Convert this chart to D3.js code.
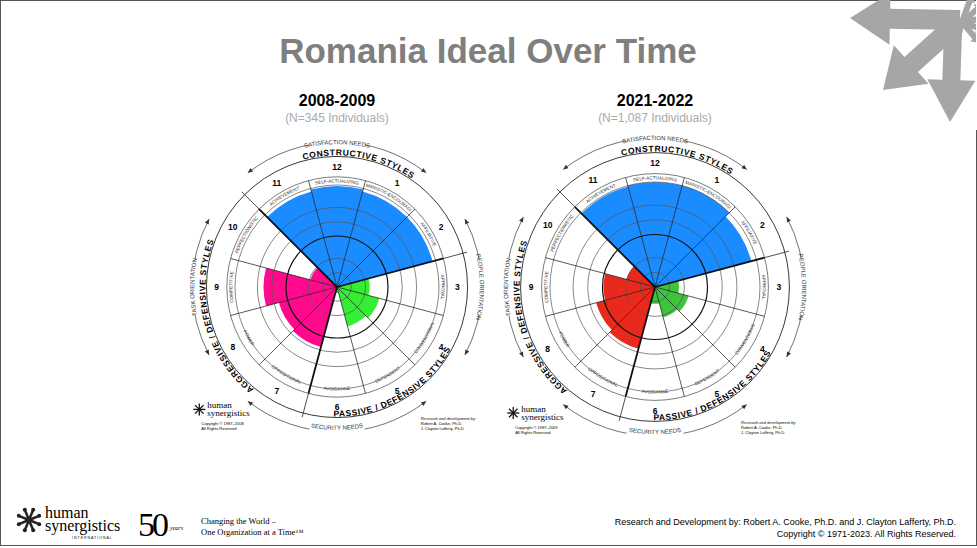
<!DOCTYPE html>
<html>
<head>
<meta charset="utf-8">
<script src="https://cdn.jsdelivr.net/npm/d3@7"></script>
<style>
  body { margin: 0; background: #fff; }
  svg { display: block; font-family: "Liberation Sans", Arial, sans-serif; }
</style>
</head>
<body>
<svg id="chart" width="977" height="548"></svg>
<script>
// Style names, clockwise from 1 (12 sits at the top)
const styleNumbers = [1, 2, 3, 4, 5, 6, 7, 8, 9, 10, 11, 12];
const styleNames = ['HUMANISTIC-ENCOURAGING', 'AFFILIATIVE', 'APPROVAL', 'CONVENTIONAL', 'DEPENDENT',
  'AVOIDANCE', 'OPPOSITIONAL', 'POWER', 'COMPETITIVE', 'PERFECTIONISTIC', 'ACHIEVEMENT', 'SELF-ACTUALIZING'];
// cluster for each style number 1..12
const styleCluster = ['con', 'con', 'pas', 'pas', 'pas', 'pas', 'agg', 'agg', 'agg', 'agg', 'con', 'con'];

// percentile scores (0-100) per style 1..12
const scores2008 = [97, 97, 32, 43, 40, 6, 61, 59, 72, 27, 97, 99];
const scores2021 = [100, 95, 23, 33, 30, 16, 61, 58, 49, 28, 99, 100];

const charts = [
  { title: '2008-2009', n: '(N=345 Individuals)', cx: 337, cy: 287, R: 102, scores: scores2008,
    colors: { con: '#1a8cff', agg: '#ff0a8c', pas: '#33ee33' }, copy: 'Copyright © 1987–2008' },
  { title: '2021-2022', n: '(N=1,087 Individuals)', cx: 655, cy: 287, R: 105, scores: scores2021,
    colors: { con: '#1a8cff', agg: '#e8291c', pas: '#3cc43c' }, copy: 'Copyright © 1987–2009' }
];

const svg = d3.select('#chart');
const defs = svg.append('defs');
const rad = d => d * Math.PI / 180;
const line = d3.line();

// frame
svg.append('rect').attr('x', 0.5).attr('y', 0.5).attr('width', 976).attr('height', 545)
  .attr('fill', 'none').attr('stroke', '#555').attr('stroke-width', 1);

// title
svg.append('text').attr('x', 488).attr('y', 63).attr('text-anchor', 'middle')
  .attr('font-size', 35).attr('font-weight', 'bold').attr('fill', '#7f7f7f')
  .text('Romania Ideal Over Time');

// top-right arrows logo
const logo = svg.append('g').attr('fill', '#a6a6a6');
function arrowShape(x0, y0, x1, y1, w, head, hw) {
  const a = Math.atan2(y1 - y0, x1 - x0), nx = -Math.sin(a), ny = Math.cos(a);
  const bx = x1 - Math.cos(a) * head, by = y1 - Math.sin(a) * head;
  return [[x0 + nx * w, y0 + ny * w], [bx + nx * w, by + ny * w], [bx + nx * hw, by + ny * hw],
    [x1, y1], [bx - nx * hw, by - ny * hw], [bx - nx * w, by - ny * w], [x0 - nx * w, y0 - ny * w]];
}
[[960, 20, 850, 18, 10, 40, 26], [955, 25, 883, 90, 10, 38, 26], [953, 30, 950, 122, 9, 42, 24]].forEach(a =>
  logo.append('path').attr('d', line(arrowShape(...a)) + 'Z'));
[[-70, 30], [-40, 28], [-10, 24], [20, 24], [50, 28], [105, 30], [125, 32]].forEach(([ang, len]) => {
  const x1 = 962 + len * Math.cos(rad(ang)), y1 = 22 + len * Math.sin(rad(ang));
  logo.append('path').attr('d', line(arrowShape(962, 22, x1, y1, 3, 8, 6)) + 'Z');
});
svg.append('rect').attr('x', 976).attr('y', 0).attr('width', 1).attr('height', 130).attr('fill', '#fff');

let pid = 0;
function drawCircumplex(c) {
  const { cx, cy, R } = c;
  const g = svg.append('g');
  const pt = (a, r) => [cx + r * Math.sin(rad(a)), cy - r * Math.cos(rad(a))];
  const r = d3.scaleLinear().domain([0, 100]).range([0, R]);

  function arcId(rr, a0, a1) {
    const id = 'p' + (pid++);
    const [x0, y0] = pt(a0, rr), [x1, y1] = pt(a1, rr);
    const large = Math.abs(a1 - a0) > 180 ? 1 : 0, sweep = a1 > a0 ? 1 : 0;
    defs.append('path').attr('id', id).attr('d', `M${x0},${y0}A${rr},${rr} 0 ${large} ${sweep} ${x1},${y1}`);
    return id;
  }
  function arcText(rr, a0, a1, txt, size, weight, fill, spacing) {
    const id = arcId(rr, a0, a1);
    g.append('text').attr('font-size', size).attr('font-weight', weight || 'normal')
      .attr('fill', fill || '#000').attr('letter-spacing', spacing || 0)
      .append('textPath').attr('href', '#' + id).attr('startOffset', '50%').attr('text-anchor', 'middle')
      .text(txt);
  }

  // title
  svg.append('text').attr('x', cx).attr('y', 106).attr('text-anchor', 'middle')
    .attr('font-size', 16).attr('font-weight', 'bold').text(c.title);
  svg.append('text').attr('x', cx).attr('y', 122).attr('text-anchor', 'middle')
    .attr('font-size', 12).attr('fill', '#aaa').text(c.n);

  // score wedges
  const arc = d3.arc();
  styleNumbers.forEach((k, i) => {
    g.append('path').attr('transform', `translate(${cx},${cy})`)
      .attr('d', arc({ innerRadius: 0, outerRadius: r(c.scores[i]), startAngle: rad(k * 30 - 15), endAngle: rad(k * 30 + 15) }))
      .attr('fill', c.colors[styleCluster[i]]);
  });

  // grid rings
  [14, 28, 50, 64, 78, 100].forEach(t => {
    g.append('circle').attr('cx', cx).attr('cy', cy).attr('r', r(t)).attr('fill', 'none')
      .attr('stroke', t === 50 ? '#111' : '#555').attr('stroke-width', t === 50 ? 1.2 : 0.7);
  });
  g.append('circle').attr('cx', cx).attr('cy', cy).attr('r', R * 1.08).attr('fill', 'none').attr('stroke', '#444').attr('stroke-width', 0.7);
  g.append('circle').attr('cx', cx).attr('cy', cy).attr('r', R * 1.28).attr('fill', 'none').attr('stroke', '#222').attr('stroke-width', 0.9);

  // radial lines
  styleNumbers.forEach(k => {
    const a = k * 30 - 15, bold = [315, 75, 195].includes(((a % 360) + 360) % 360);
    const [x1, y1] = pt(a, R * 1.08);
    g.append('line').attr('x1', cx).attr('y1', cy).attr('x2', x1).attr('y2', y1)
      .attr('stroke', '#111').attr('stroke-width', bold ? 1.8 : 0.7);
    if (bold) {
      const [xa, ya] = pt(a, R * 1.08), [xb, yb] = pt(a, R * 1.32);
      g.append('line').attr('x1', xa).attr('y1', ya).attr('x2', xb).attr('y2', yb).attr('stroke', '#222').attr('stroke-width', 0.8);
    }
  });

  // names in the band and numbers
  styleNumbers.forEach((k, i) => {
    const a = k * 30;
    if (k >= 4 && k <= 8) arcText(R * 1.015, a + 14, a - 14, styleNames[i], 4.6, 'normal', '#333');
    else arcText(R * 1.025, a - 14, a + 14, styleNames[i], 4.6, 'normal', '#333');
    const [x, y] = pt(a, R * 1.18);
    g.append('text').attr('x', x).attr('y', y + 3).attr('text-anchor', 'middle')
      .attr('font-size', 8.5).attr('font-weight', 'bold').text(k);
  });

  // cluster titles
  arcText(R * 1.29, -25, 45, 'CONSTRUCTIVE STYLES', 8.5, 'bold', '#000', 0.6);
  arcText(R * 1.27, 195, 105, 'PASSIVE / DEFENSIVE STYLES', 8.5, 'bold', '#000', 0.6);
  arcText(R * 1.29, 195, 315, 'AGGRESSIVE / DEFENSIVE STYLES', 8.5, 'bold', '#000', 0.6);

  // outer arrows
  [[-38, 38, 'SATISFACTION NEEDS', false], [62, 118, 'PEOPLE ORIENTATION', false],
   [218, 142, 'SECURITY NEEDS', true], [242, 298, 'TASK ORIENTATION', false]].forEach(([a0, a1, txt, flip]) => {
    const rr = R * 1.42;
    const id = arcId(rr, a0, a1);
    g.append('use').attr('href', '#' + id).attr('fill', 'none').attr('stroke', '#333').attr('stroke-width', 0.7);
    [[Math.max(a0, a1), 1], [Math.min(a0, a1), -1]].forEach(([a, dir]) => {
      const [x, y] = pt(a, rr);
      const tx = Math.cos(rad(a)) * dir, ty = Math.sin(rad(a)) * dir;
      g.append('path').attr('d', line([[x - tx * 5 - ty * 2.2, y - ty * 5 + tx * 2.2], [x, y], [x - tx * 5 + ty * 2.2, y - ty * 5 - tx * 2.2]]) + 'Z')
        .attr('fill', '#333');
    });
    const mid = (a0 + a1) / 2, span = 13;
    const tid = flip ? arcId(rr - 2, mid + span, mid - span) : arcId(rr - 2, mid - span, mid + span);
    g.append('path').attr('d', d3.arc()({ innerRadius: rr - 4, outerRadius: rr + 4, startAngle: rad(mid - 11), endAngle: rad(mid + 11) }))
      .attr('transform', `translate(${cx},${cy})`).attr('fill', '#fff');
    g.append('text').attr('font-size', 6).attr('fill', '#333')
      .append('textPath').attr('href', '#' + tid).attr('startOffset', '50%').attr('text-anchor', 'middle').text(txt);
  });

  // small logo + credits
  const lx = cx - R * 1.35, ly = cy + R * 1.2;
  const star = g.append('g').attr('stroke', '#111').attr('stroke-width', 1.3);
  d3.range(8).forEach(j => {
    const [x, y] = [lx + 6 * Math.cos(rad(j * 45)), ly + 6 * Math.sin(rad(j * 45))];
    star.append('line').attr('x1', lx).attr('y1', ly).attr('x2', x).attr('y2', y);
  });
  g.append('text').attr('x', lx + 8).attr('y', ly - 1).attr('font-family', 'Liberation Serif').attr('font-size', 9).text('human');
  g.append('text').attr('x', lx + 8).attr('y', ly + 7).attr('font-family', 'Liberation Serif').attr('font-size', 9).text('synergistics');
  g.append('text').attr('x', lx + 2).attr('y', ly + 16).attr('font-size', 4).text(c.copy);
  g.append('text').attr('x', lx + 2).attr('y', ly + 21).attr('font-size', 4).text('All Rights Reserved');
  const rx = cx + R * 0.82, ry = cy + R * 1.3;
  ['Research and development by:', 'Robert A. Cooke, Ph.D.', 'J. Clayton Lafferty, Ph.D.'].forEach((t, j) =>
    g.append('text').attr('x', rx).attr('y', ry + j * 5).attr('font-size', 4).attr('font-style', j ? 'normal' : 'italic').text(t));
}
charts.forEach(drawCircumplex);

// footer
const f = svg.append('g');
const sx = 29, sy = 520;
d3.range(8).forEach(j => {
  const [x, y] = [sx + 11 * Math.cos(rad(j * 45 + 22.5)), sy + 11 * Math.sin(rad(j * 45 + 22.5))];
  f.append('line').attr('x1', sx).attr('y1', sy).attr('x2', x).attr('y2', y).attr('stroke', '#222').attr('stroke-width', 2.5);
  f.append('circle').attr('cx', x).attr('cy', y).attr('r', 2).attr('fill', '#222');
});
f.append('text').attr('x', 45).attr('y', 518).attr('font-family', 'Liberation Serif').attr('font-size', 16).text('human');
f.append('text').attr('x', 45).attr('y', 531).attr('font-family', 'Liberation Serif').attr('font-size', 16).text('synergistics');
f.append('text').attr('x', 72).attr('y', 539).attr('font-size', 3.5).attr('letter-spacing', 1).text('INTERNATIONAL');
f.append('text').attr('x', 138).attr('y', 536).attr('font-family', 'Liberation Serif').attr('font-size', 34).attr('letter-spacing', -3).text('50');
f.append('text').attr('x', 170).attr('y', 530).attr('font-family', 'Liberation Serif').attr('font-style', 'italic').attr('font-size', 6).text('years');
f.append('text').attr('x', 201).attr('y', 524).attr('font-family', 'Liberation Serif').attr('font-size', 8.5).text('Changing the World –');
f.append('text').attr('x', 201).attr('y', 535).attr('font-family', 'Liberation Serif').attr('font-size', 8.5).text('One Organization at a Time™');
f.append('text').attr('x', 956).attr('y', 525).attr('text-anchor', 'end').attr('font-size', 9).text('Research and Development by: Robert A. Cooke, Ph.D. and J. Clayton Lafferty, Ph.D.');
f.append('text').attr('x', 956).attr('y', 537).attr('text-anchor', 'end').attr('font-size', 9).text('Copyright © 1971-2023.  All Rights Reserved.');
</script>
</body>
</html>
